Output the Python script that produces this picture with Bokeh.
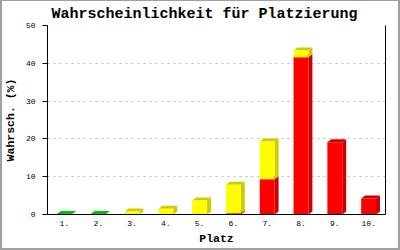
from bokeh.plotting import figure
from bokeh.models import Range1d, FixedTicker, LinearAxis
from bokeh.embed import file_html
from bokeh.resources import INLINE

# ---- data ----
places = ["1.", "2.", "3.", "4.", "5.", "6.", "7.", "8.", "9.", "10."]
red = [0, 0, 0, 0, 0, 0.3, 9.3, 41.6, 19.1, 4.2]
yellow = [0, 0, 0.8, 1.5, 3.7, 7.6, 10.0, 1.8, 0, 0]
green = [0.15, 0.15, 0, 0, 0, 0, 0, 0, 0, 0]
y_ticks = [0, 10, 20, 30, 40, 50]

series = [(red, "#ff0000", "#cc0000"),
          (yellow, "#ffff00", "#cccc00"),
          (green, "#00ee00", "#00c000")]

FONT = "Liberation Mono"

p = figure(width=400, height=250, output_backend="svg", toolbar_location=None,
           x_range=Range1d(0, len(places)), y_range=Range1d(0, 50),
           title="Wahrscheinlichkeit für Platzierung",
           min_border_left=43, min_border_right=15, min_border_top=25,
           min_border_bottom=36)
# grey image frame drawn as inset shadow behind a transparent border area
p.styles = {"background-color": "white",
            "box-shadow": ("inset 2px 0 0 0 #a0a0a0, inset -2px 0 0 0 #a0a0a0, "
                           "inset 0 -2px 0 0 #a0a0a0, inset 0 1px 0 0 #a0a0a0")}
p.outline_line_color = None
p.background_fill_color = "white"
p.border_fill_color = None

p.title.text_font = FONT
p.title.text_font_size = "15px"
p.title.text_font_style = "bold"
p.title.text_color = "black"
p.title.align = "left"
p.title.offset = 4
p.title.standoff = 6

# 3D bars
bw = 0.44
dx = 4 / 34.2
dy = 3 / 3.78
fx0, fx1, fy0, fy1, fcol = [], [], [], [], []
pxs, pys, pcol = [], [], []
for i in range(len(places)):
    base = 0.0
    xl = i + 0.5 - bw / 2
    xr = i + 0.5 + bw / 2
    for vals, front, dark in series:
        v = vals[i]
        if v <= 0:
            continue
        y0, y1 = base, base + v
        pxs.append([xr, xr + dx, xr + dx, xr])
        pys.append([y0, y0 + dy, y1 + dy, y1])
        pcol.append(dark)
        pxs.append([xl, xl + dx, xr + dx, xr])
        pys.append([y1, y1 + dy, y1 + dy, y1])
        pcol.append(dark)
        fx0.append(xl); fx1.append(xr); fy0.append(y0); fy1.append(y1); fcol.append(front)
        base = y1

p.patches(pxs, pys, fill_color=pcol, line_color=None)
p.quad(left=fx0, right=fx1, bottom=fy0, top=fy1, fill_color=fcol, line_color=None)

# axes
for ax in (p.xaxis[0], p.yaxis[0]):
    ax.minor_tick_line_color = None
    ax.major_tick_in = 0
    ax.major_label_text_font = FONT
    ax.major_label_text_font_size = "8px"
    ax.major_label_text_color = "black"
    ax.axis_label_text_font = FONT
    ax.axis_label_text_font_size = "11.5px"
    ax.axis_label_text_font_style = "bold"
    ax.axis_label_text_color = "black"
    ax.axis_line_color = "black"
    ax.major_tick_line_color = "black"

p.xaxis.ticker = FixedTicker(ticks=[i + 0.5 for i in range(len(places))])
p.xaxis.major_label_overrides = {i + 0.5: lab for i, lab in enumerate(places)}
p.xaxis.major_tick_out = 0
p.xaxis.major_label_standoff = 6
p.xaxis.axis_label = "Platz"
p.xaxis.axis_label_standoff = 3

p.yaxis.ticker = FixedTicker(ticks=y_ticks)
p.yaxis.major_tick_out = 5
p.yaxis.major_label_standoff = 7
p.yaxis.axis_label = "Wahrsch. (%)"
p.yaxis.axis_label_standoff = 6

ra = LinearAxis(ticker=FixedTicker(ticks=[]), major_tick_line_color=None,
                minor_tick_line_color=None, major_label_text_font_size="0px",
                axis_line_color="black")
p.add_layout(ra, "right")

p.xgrid.visible = False
p.ygrid.grid_line_color = "#bbbbbb"
p.ygrid.grid_line_dash = "2 4"

open("out.html", "w").write(file_html(p, INLINE))
